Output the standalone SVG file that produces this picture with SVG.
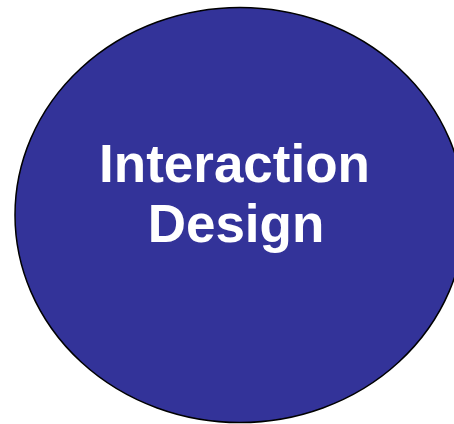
<svg xmlns="http://www.w3.org/2000/svg" width="454" height="424" viewBox="0 0 454 424">
<style>
.lbl{font-family:"Liberation Sans",Arial,sans-serif;font-weight:bold;font-size:53px;fill:#ffffff;text-anchor:middle}
</style>
<rect width="454" height="424" fill="#ffffff"/>
<g id="interaction-design">
<ellipse cx="240" cy="215" rx="225" ry="207.5" fill="#333399" stroke="#000000" stroke-width="1.5"/>
<text class="lbl" x="234.5" y="181.5">Interaction</text>
<text class="lbl" x="236" y="241.5">Design</text>
</g>
</svg>
